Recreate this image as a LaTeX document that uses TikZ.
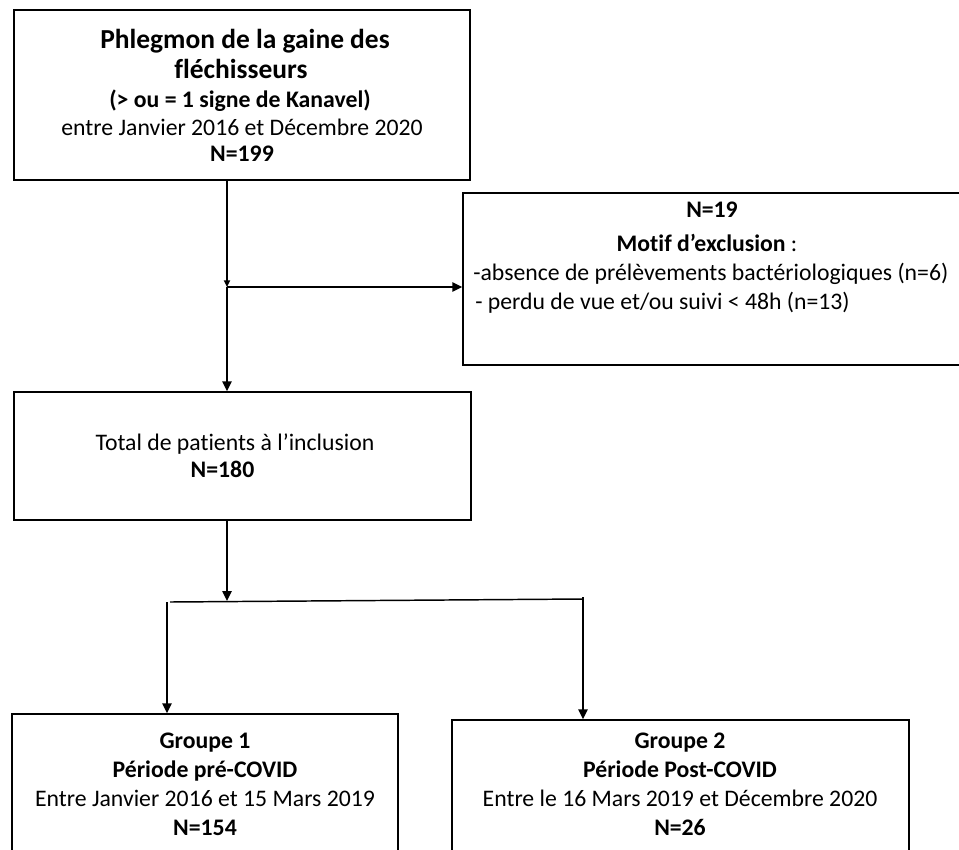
\documentclass[tikz,border=0pt]{standalone}
\usepackage{fontspec}
\setmainfont[Ligatures=NoCommon]{Carlito}
\usetikzlibrary{arrows.meta}
\begin{document}
\begin{tikzpicture}[x=0.75pt,y=-0.75pt,
  box/.style={draw, line width=1.1pt, rectangle, inner sep=0pt},
  txt/.style={anchor=base, inner sep=0pt, font=\fontsize{17.8}{21}\selectfont},
  txtb/.style={anchor=base, inner sep=0pt, font=\fontsize{17.8}{21}\selectfont\bfseries},
  ttl/.style={anchor=base, inner sep=0pt, font=\fontsize{20.6}{24}\selectfont\bfseries},
  arr/.style={line width=1.1pt, -{Triangle[length=7.5pt,width=7pt]}},
  ln/.style={line width=1.1pt}]
\useasboundingbox (0,0) rectangle (959,849);
\clip (0,0) rectangle (959,849);

% boxes
\node[box, minimum width=342pt, minimum height=127.5pt] (top) at (242,95) {};
\node[box, minimum width=342.75pt, minimum height=96pt] (incl) at (242.5,456) {};
\node[box, minimum width=387.75pt, minimum height=129pt] (excl) at (721.5,279) {};
\node[box, minimum width=289.5pt, minimum height=124.5pt] (g1) at (205,797) {};
\node[box, minimum width=342.75pt, minimum height=120pt] (g2) at (680.5,800) {};

% texts: top box
\node[ttl] (t1) at (245,49) {Phlegmon de la gaine des};
\node[ttl] (t2) at (241,79) {fléchisseurs};
\node[txtb] (t3) at (240,107) {(> ou = 1 signe de Kanavel)};
\node[txt] (t4) at (242,135) {entre Janvier 2016 et Décembre 2020};
\node[txtb] (t5) at (242,161) {N=199};

% exclusion box
\node[txtb] (e1) at (712,217) {N=19};
\node[txt] (e2) at (707,251) {\textbf{Motif d’exclusion} :};
\node[txt, anchor=base west] (e3) at (473,280) {-absence de prélèvements bactériologiques (n=6)};
\node[txt, anchor=base west] (e4) at (475,309) {- perdu de vue et/ou suivi < 48h (n=13)};

% inclusion box
\node[txt] (i1) at (235,450) {Total de patients à l’inclusion};
\node[txtb] (i2) at (222.5,477) {N=180};

% groups
\node[txtb] (a1) at (205,748) {Groupe 1};
\node[txtb] (a2) at (205,777) {Période pré-COVID};
\node[txt] (a3) at (205,806) {Entre Janvier 2016 et 15 Mars 2019};
\node[txtb] (a4) at (205,835) {N=154};

\node[txtb] (b1) at (680,748) {Groupe 2};
\node[txtb] (b2) at (680,777) {Période Post-COVID};
\node[txt] (b3) at (680,806) {Entre le 16 Mars 2019 et Décembre 2020};
\node[txtb] (b4) at (680,835) {N=26};

% connectors
\coordinate (j1) at (227,287);
\draw[line width=2.2pt, -{Triangle[length=5pt,width=4.5pt]}] (j1 |- top.south) -- (j1);
\draw[arr] (j1) -- (j1 -| excl.west);
\draw[arr] (j1) -- (j1 |- incl.north);

\coordinate (j2) at (227,601);
\draw[arr] (j2 |- incl.south) -- (j2);
\coordinate (hl) at (170,602);
\coordinate (hr) at (583,599);
\draw[ln] (hl) -- (hr);
\coordinate (bl) at (167,602);
\coordinate (br) at (583,597);
\draw[arr] (bl) -- (bl |- g1.north);
\draw[arr] (br) -- (br |- g2.north);
\end{tikzpicture}
\end{document}
